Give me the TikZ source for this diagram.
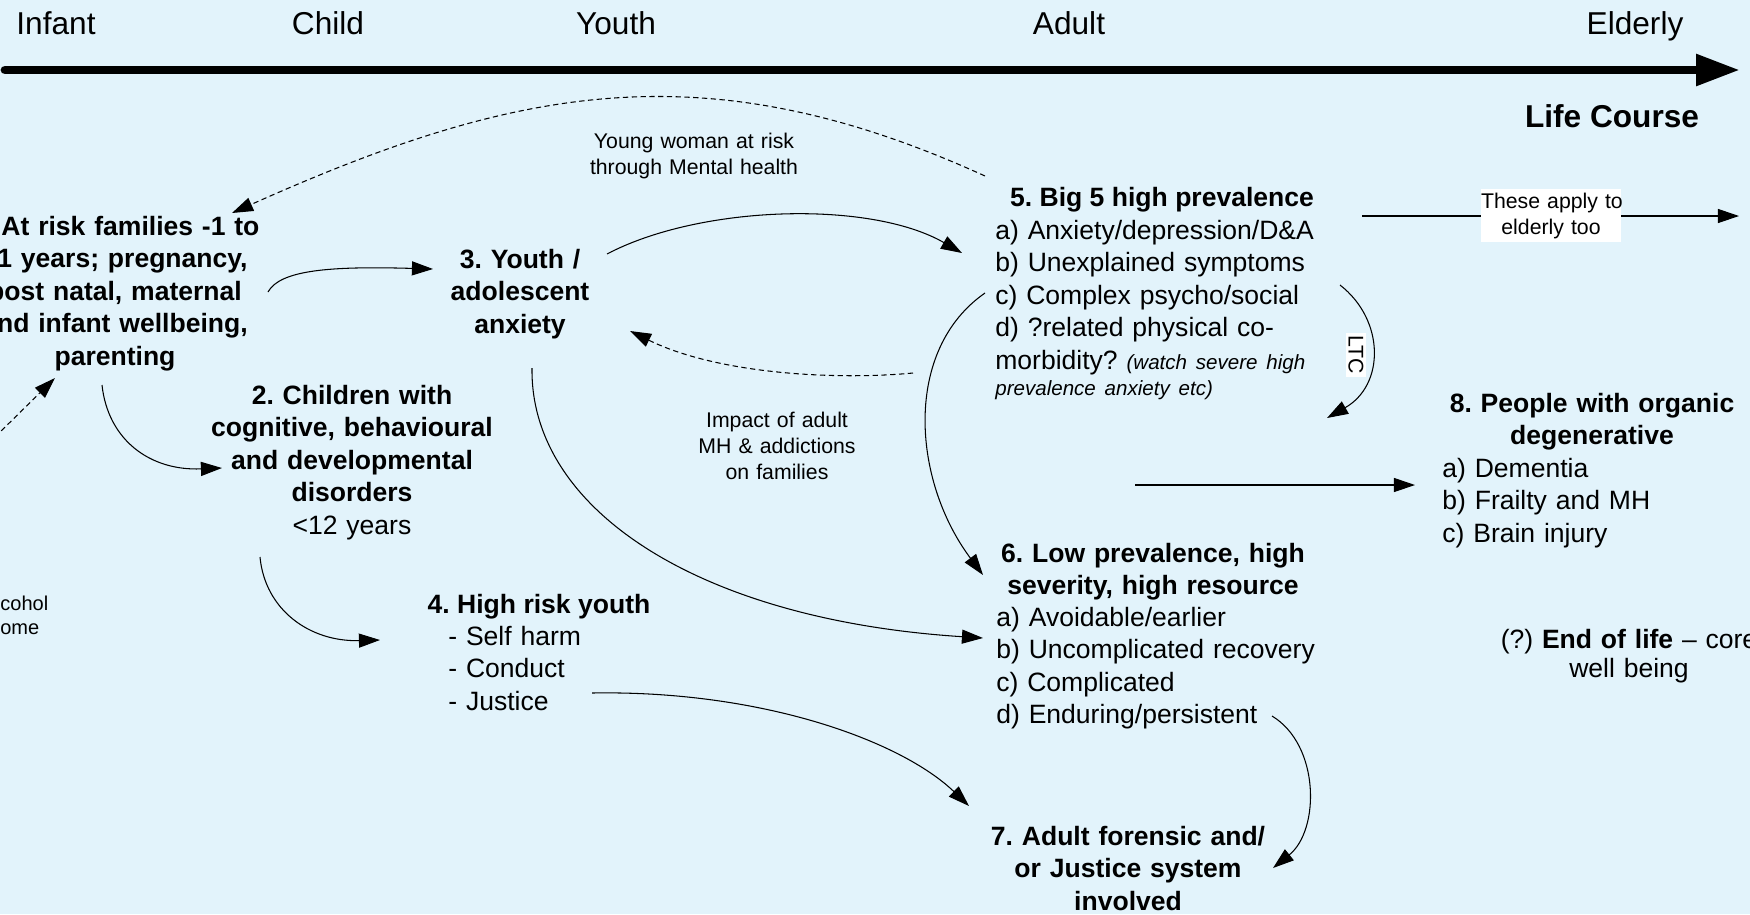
\documentclass[tikz,border=0pt]{standalone}
\usepackage{fontspec}
\setmainfont{Liberation Sans}
\usetikzlibrary{arrows.meta}
\definecolor{bgblue}{RGB}{226,243,251}
\newcommand{\lcbody}{\fontsize{15.1}{18.5}\selectfont}
\newcommand{\lcsmall}{\fontsize{12.1}{14.8}\selectfont}
\newcommand{\lcaside}{\fontsize{11.7}{14.8}\selectfont}
\newcommand{\lctop}{\fontsize{18}{21.6}\selectfont}
\frenchspacing

\begin{document}
\begin{tikzpicture}[x=0.02cm, y=-0.02cm, >={Triangle[length=12pt,width=8pt]},
    box/.style={font=\lcbody, inner sep=0pt, align=center, anchor=base},
    lst/.style={font=\lcbody, inner sep=0pt, align=left, anchor=base west, text width=7.2cm},
    note/.style={font=\lcsmall, inner sep=0pt, align=center, anchor=base},
    flow/.style={->, line width=0.6pt},
    riskflow/.style={->, line width=0.6pt, dash pattern=on 3pt off 2pt}]

    % Background
    \fill[bgblue] (0,0) rectangle (1750,914);
    \useasboundingbox (0,0) rectangle (1750,914);

    % Life course axis
    \foreach \stage/\xx in {Infant/56, Child/328, Youth/616, Adult/1069, Elderly/1635}
        \node[font=\lctop, anchor=base, inner sep=0pt] (stage-\stage) at (\xx,34) {\stage};
    \coordinate (lifestart) at (5,70);
    \coordinate (lifeend) at (1740,70);
    \draw[line width=5pt, line cap=round, -{Triangle[length=25pt,width=17pt]}] (lifestart) -- (lifeend);
    \node[font=\lctop\bfseries, anchor=base, inner sep=0pt] (lifecourse) at (1612,127) {Life Course};

    % Groups
    \node[box, text width=6cm] (atrisk) at (115,235) {\bfseries 1. At risk families -1 to\\ \hspace*{0.3cm}1 years; pregnancy,\\ post natal, maternal\\ and infant wellbeing,\\ parenting};
    \node[box, text width=6.4cm] (children) at (352,404) {\textbf{2. Children with\\ cognitive, behavioural\\ and developmental\\ disorders}\\ <12 years};
    \node[box, text width=4.4cm] (youth) at (520,268) {\bfseries 3. Youth /\\ adolescent\\ anxiety};
    \node[box] (highrisk) at (539,613) {\bfseries 4. High risk youth};
    \node[lst] (highrisklist) at (448,645) {- Self harm\\ - Conduct\\ - Justice};
    \node[box] (bigfive) at (1162,206) {\bfseries 5. Big 5 high prevalence};
    \node[lst] (bigfivelist) at (995,239) {a) Anxiety/depression/D\&A\\ b) Unexplained symptoms\\ c) Complex psycho/social\\ d) ?related physical co-\\ morbidity? {\lcaside\itshape (watch severe high}\par {\lcaside\itshape prevalence anxiety etc)\par}};
    \node[box, text width=6.4cm] (lowprev) at (1153,562) {\bfseries 6. Low prevalence, high\\ severity, high resource};
    \node[lst] (lowprevlist) at (996,626) {a) Avoidable/earlier\\ b) Uncomplicated recovery\\ c) Complicated\\ d) Enduring/persistent};
    \node[box, text width=6.4cm] (forensic) at (1128,845) {\bfseries 7. Adult forensic and/\\ or Justice system\\ involved};
    \node[box, text width=6.4cm] (organic) at (1592,412) {\bfseries 8. People with organic\\ degenerative};
    \node[lst, text width=5cm] (organiclist) at (1442,477) {a) Dementia\\ b) Frailty and MH\\ c) Brain injury};
    \node[box, text width=6cm, font=\fontsize{15.1}{16.5}\selectfont] (endlife) at (1629,648) {(?) \textbf{End of life} -- core\\ well being};
    \node[font=\fontsize{11.4}{14.2}\selectfont, inner sep=0pt, align=left, anchor=base west, text width=2cm] (alcohol) at (0,610) {cohol\\ ome};

    % Notes
    \node[note, text width=5.2cm] (youngwoman) at (694,148) {Young woman at risk\\ through Mental health};
    \node[note, text width=4cm] (impact) at (777,427) {Impact of adult\\ MH \& addictions\\ on families};

    % Arrow ends
    \coordinate (bigfive-nw) at (985,176);
    \coordinate (atrisk-ne) at (232,213);
    \coordinate (atrisk-e) at (268,292);
    \coordinate (youth-w) at (433,269);
    \coordinate (youth-e) at (607,254);
    \coordinate (bigfive-w) at (962,253);
    \coordinate (bigfive-sw) at (913,373);
    \coordinate (youth-se) at (630,331);
    \coordinate (bigfive-c) at (985,293);
    \coordinate (lowprev-nw) at (983,575);
    \coordinate (bigfive-se) at (1340,285);
    \coordinate (bigfive-s) at (1327,418);
    \coordinate (youth-s) at (532,368);
    \coordinate (lowprev-b) at (983,638);
    \coordinate (bigfive-out) at (1135,485);
    \coordinate (organic-w) at (1415,485);
    \coordinate (atrisk-s) at (102,385);
    \coordinate (children-w) at (222,468);
    \coordinate (children-s) at (260,557);
    \coordinate (highrisk-w) at (380,640);
    \coordinate (highrisk-e) at (592,693);
    \coordinate (forensic-nw) at (969,806);
    \coordinate (lowprev-se) at (1272,716);
    \coordinate (forensic-e) at (1273,868);
    \coordinate (bigfive-ne) at (1362,216);
    \coordinate (elderly-out) at (1739,216);
    \coordinate (alcohol-up) at (-5,437);
    \coordinate (atrisk-sw) at (55,378);

    % Connectors
    \draw[riskflow] (bigfive-nw) .. controls (704,48) and (514,87) .. (atrisk-ne);
    \draw[flow] (atrisk-e) .. controls (280,270) and (330,266) .. (youth-w);
    \draw[flow] (youth-e) .. controls (700,205) and (870,200) .. (bigfive-w);
    \draw[riskflow] (bigfive-sw) .. controls (840,380) and (720,375) .. (youth-se);
    \draw[flow] (bigfive-c) .. controls (903,350) and (912,480) .. (lowprev-nw);
    \draw[flow] (bigfive-se) .. controls (1385,320) and (1385,385) .. (bigfive-s);
    \draw[flow] (youth-s) .. controls (530,510) and (700,620) .. (lowprev-b);
    \draw[flow] (bigfive-out) -- (organic-w);
    \draw[flow] (atrisk-s) .. controls (108,440) and (150,471) .. (children-w);
    \draw[flow] (children-s) .. controls (265,610) and (310,642) .. (highrisk-w);
    \draw[flow] (highrisk-e) .. controls (760,690) and (900,740) .. (forensic-nw);
    \draw[flow] (lowprev-se) .. controls (1320,745) and (1320,830) .. (forensic-e);
    \draw[riskflow] (alcohol-up) -- (atrisk-sw);
    \draw[flow] (bigfive-ne) -- (elderly-out);

    % Labels on connectors
    \node[note, text width=2.8cm, fill=white, inner ysep=2pt] (elderlynote) at (1551,208) {\mbox{These apply to}\\ elderly too};
    \node[font=\lcsmall, fill=white, inner sep=1.5pt, rotate=-90] (ltc) at (1356,355) {LTC};
\end{tikzpicture}
\end{document}
